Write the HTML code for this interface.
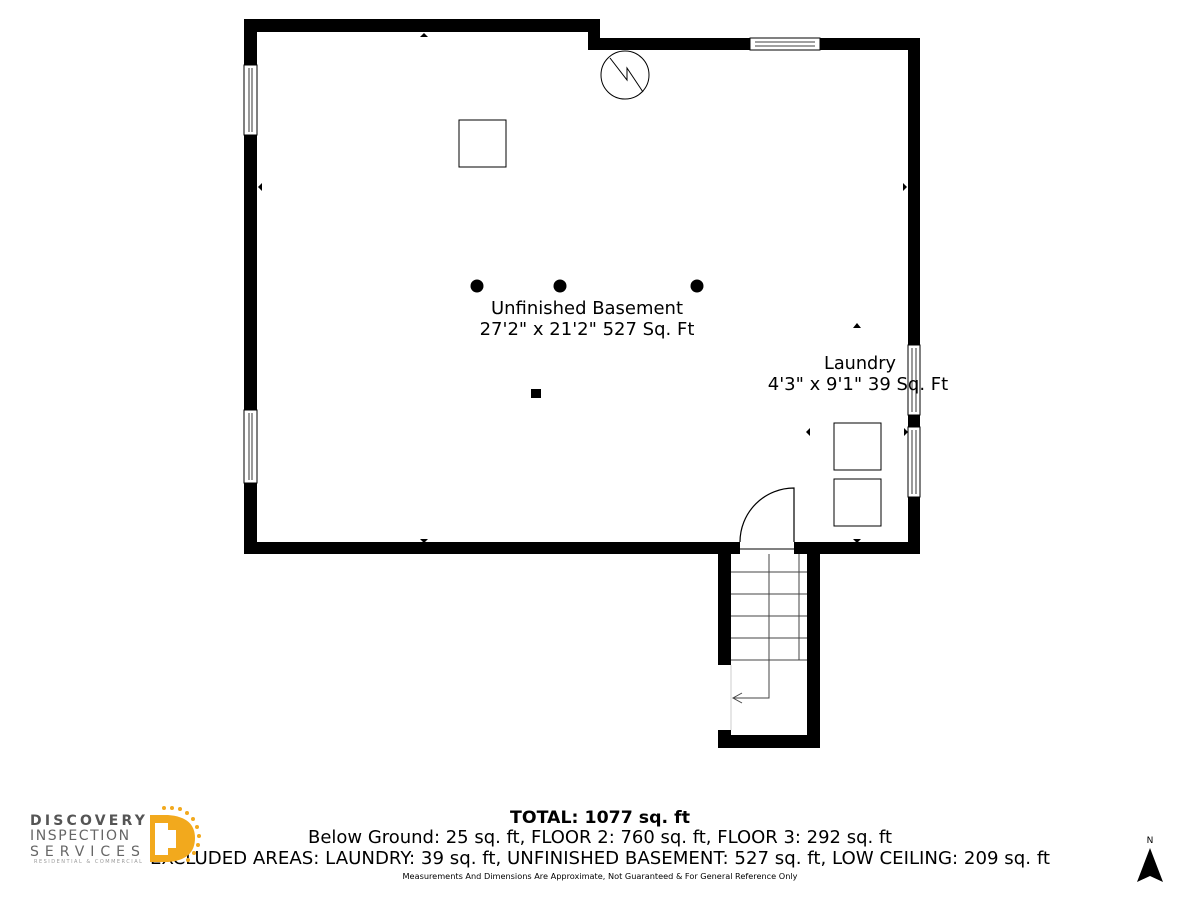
<!DOCTYPE html>
<html><head><meta charset="utf-8"><style>
html,body{margin:0;padding:0;background:#fff;width:1200px;height:900px;overflow:hidden}
svg{display:block}
text{font-family:"DejaVu Sans","Liberation Sans",sans-serif}
</style></head><body>
<svg width="1200" height="900" viewBox="0 0 1200 900" xmlns="http://www.w3.org/2000/svg">
<g fill="#000">
<rect x="244" y="19" width="356" height="13"/>
<rect x="588" y="19" width="12" height="31"/>
<rect x="588" y="38" width="332" height="12"/>
<rect x="244" y="19" width="13" height="535"/>
<rect x="908" y="38" width="12" height="516"/>
<rect x="244" y="542" width="676" height="12"/>
<rect x="718" y="542" width="13" height="123"/>
<rect x="718" y="730" width="13" height="18"/>
<rect x="807" y="542" width="13" height="206"/>
<rect x="718" y="735" width="102" height="13"/>
</g>
<rect x="740" y="542" width="54" height="12" fill="#fff"/>
<line x1="740" y1="549" x2="794" y2="549" stroke="#000" stroke-width="1"/>
<path d="M740 542 A54 54 0 0 1 794 488 L794 542" fill="none" stroke="#000" stroke-width="1.2"/>
<g fill="#fff" stroke="#000" stroke-width="1">
<rect x="750" y="38" width="70" height="12"/>
<rect x="244" y="65" width="13" height="70"/>
<rect x="244" y="410" width="13" height="73"/>
<rect x="908" y="345" width="12" height="70"/>
<rect x="908" y="427" width="12" height="70"/>
</g>
<g stroke="#000" stroke-width="0.8">
<line x1="755" y1="42" x2="815" y2="42"/><line x1="755" y1="46" x2="815" y2="46"/>
<line x1="249" y1="68" x2="249" y2="132"/><line x1="252" y1="68" x2="252" y2="132"/>
<line x1="249" y1="413" x2="249" y2="480"/><line x1="252" y1="413" x2="252" y2="480"/>
<line x1="912" y1="348" x2="912" y2="412"/><line x1="916" y1="348" x2="916" y2="412"/>
<line x1="912" y1="430" x2="912" y2="494"/><line x1="916" y1="430" x2="916" y2="494"/>
</g>
<g stroke="#444" stroke-width="1" fill="none">
<line x1="731" y1="572" x2="807" y2="572"/>
<line x1="731" y1="594" x2="807" y2="594"/>
<line x1="731" y1="616" x2="807" y2="616"/>
<line x1="731" y1="638" x2="807" y2="638"/>
<line x1="731" y1="660" x2="807" y2="660"/>
<line x1="799" y1="554" x2="799" y2="660"/>
<polyline points="769,554 769,698 734,698"/>
<polyline points="742,693 733,698 742,703"/>
<line x1="731" y1="665" x2="731" y2="730" stroke="#ccc"/>
</g>
<circle cx="625" cy="75" r="24" fill="none" stroke="#000" stroke-width="1"/>
<polyline points="610,58 627,80 627,68 643,92" fill="none" stroke="#000" stroke-width="1"/>
<g fill="#fff" stroke="#000" stroke-width="1">
<rect x="459" y="120" width="47" height="47"/>
<rect x="834" y="423" width="47" height="47"/>
<rect x="834" y="479" width="47" height="47"/>
</g>
<g fill="#000">
<circle cx="477" cy="286" r="6.5"/><circle cx="560" cy="286" r="6.5"/><circle cx="697" cy="286" r="6.5"/>
<rect x="531" y="389" width="10" height="9"/>
<polygon points="420,37 428,37 424,33"/>
<polygon points="420,539 428,539 424,543"/>
<polygon points="853,539 861,539 857,543"/>
<polygon points="853,328 861,328 857,323"/>
<polygon points="262,183 262,191 258,187"/>
<polygon points="903,183 903,191 907,187"/>
<polygon points="810,428 810,436 806,432"/>
<polygon points="904,428 904,436 908,432"/>
</g>
<g font-size="18" fill="#000" text-anchor="middle">
<text x="587" y="314" textLength="192" lengthAdjust="spacingAndGlyphs">Unfinished Basement</text>
<text x="587" y="335">27'2" x 21'2" 527 Sq. Ft</text>
<text x="860" y="369" textLength="72" lengthAdjust="spacingAndGlyphs">Laundry</text>
<text x="858" y="390">4'3" x 9'1" 39 Sq. Ft</text>
</g>
<g fill="#000" text-anchor="middle">
<text x="600" y="823" font-size="17" font-weight="bold" textLength="180" lengthAdjust="spacingAndGlyphs">TOTAL: 1077 sq. ft</text>
<text x="600" y="843" font-size="18" textLength="584" lengthAdjust="spacingAndGlyphs">Below Ground: 25 sq. ft, FLOOR 2: 760 sq. ft, FLOOR 3: 292 sq. ft</text>
<text x="600" y="864" font-size="18" textLength="900" lengthAdjust="spacingAndGlyphs">EXCLUDED AREAS: LAUNDRY: 39 sq. ft, UNFINISHED BASEMENT: 527 sq. ft, LOW CEILING: 209 sq. ft</text>
<text x="600" y="879" font-size="8" textLength="395" lengthAdjust="spacingAndGlyphs">Measurements And Dimensions Are Approximate, Not Guaranteed &amp; For General Reference Only</text>
<text x="1150" y="843" font-size="9">N</text>
</g>
<polygon points="1150,848 1137,882 1150,876 1163,882" fill="#000"/>
<g>
<path d="M150 815 L168 815 Q195 817 195 838 Q195 860 168 862 L150 862 Z" fill="#f2a91d"/>
<g fill="#f2a91d">
<circle cx="172" cy="808" r="2"/><circle cx="180" cy="809" r="2"/><circle cx="187" cy="813" r="2"/><circle cx="193" cy="819" r="2"/><circle cx="197" cy="827" r="2"/><circle cx="199" cy="836" r="2"/><circle cx="198" cy="845" r="2"/><circle cx="194" cy="853" r="2"/><circle cx="188" cy="860" r="2"/><circle cx="164" cy="808" r="2"/>
</g>
<path d="M155 823 L168 823 L168 830 L176 830 L176 848 L168 848 L168 855 L155 855 Z" fill="#fff"/>
<text x="30" y="825" font-size="14" font-weight="bold" fill="#555" letter-spacing="3.2">DISCOVERY</text>
<text x="30" y="840" font-size="14" fill="#666" letter-spacing="1.6">INSPECTION</text>
<text x="30" y="856" font-size="14" fill="#666" letter-spacing="6">SERVICES</text>
<text x="34" y="863" font-size="5" fill="#999" letter-spacing="1.5">RESIDENTIAL &amp; COMMERCIAL</text>
</g>
</svg>
</body></html>
